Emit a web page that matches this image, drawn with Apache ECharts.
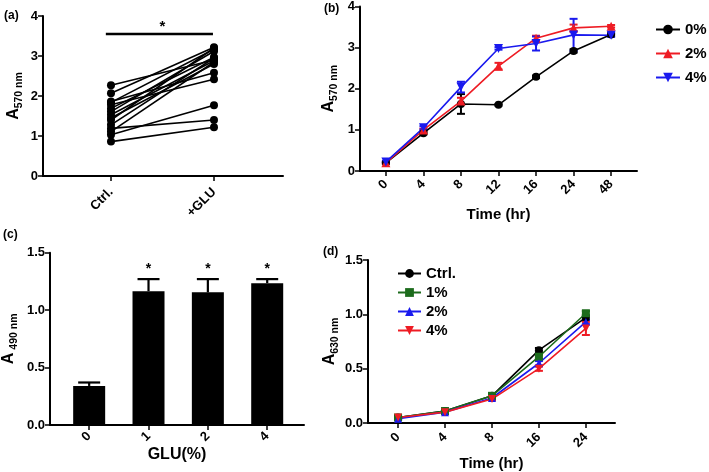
<!DOCTYPE html>
<html><head><meta charset="utf-8">
<script src="https://cdn.jsdelivr.net/npm/echarts@6/dist/echarts.min.js"></script>
<style>html,body{margin:0;padding:0;background:#fff}#c{width:709px;height:472px}</style>
</head><body><div id="c"></div>
<script>
// ---------- Panel (a): paired values ----------
const aCats = ['Ctrl.', '+GLU'];
const aCtrl = [2.27, 2.07, 1.86, 1.84, 1.78, 1.69, 1.61, 1.53, 1.45, 1.40, 1.28, 1.19, 1.11, 1.03, 0.86];
const aGlu  = [2.90, 3.22, 2.58, 3.17, 2.42, 2.97, 3.12, 2.88, 2.80, 3.20, 2.95, 1.40, 2.85, 1.77, 1.22];
const aSigY = 3.55;

// ---------- Panel (b): time course ----------
const bCats = ['0', '4', '8', '12', '16', '24', '48'];
const bNames = ['0%', '2%', '4%'];
const b0  = [0.20, 0.92, 1.63, 1.61, 2.29, 2.92, 3.32];
const b0e = [0.02, 0.03, 0.24, 0.02, 0.03, 0.04, 0.03];
const b2  = [0.20, 1.00, 1.70, 2.55, 3.23, 3.48, 3.52];
const b2e = [0.02, 0.03, 0.08, 0.08, 0.06, 0.08, 0.03];
const b4  = [0.22, 1.05, 2.04, 2.98, 3.10, 3.31, 3.30];
const b4e = [0.02, 0.04, 0.13, 0.03, 0.17, 0.39, 0.04];

// ---------- Panel (c): bars ----------
const cCats = ['0', '1', '2', '4'];
const cVals = [0.34, 1.165, 1.155, 1.235];
const cErr  = [0.03, 0.105, 0.115, 0.035];
const cSig  = ['', '*', '*', '*'];

// ---------- Panel (d): time course ----------
const dCats = ['0', '4', '8', '16', '24'];
const dNames = ['Ctrl.', '1%', '2%', '4%'];
const dCtrl = [0.05, 0.11, 0.25, 0.67, 0.97];
const dCtrlE= [0.01, 0.01, 0.01, 0.02, 0.02];
const d1    = [0.05, 0.11, 0.25, 0.61, 1.01];
const d1E   = [0.01, 0.01, 0.01, 0.02, 0.02];
const d2    = [0.04, 0.10, 0.23, 0.55, 0.93];
const d2E   = [0.01, 0.01, 0.01, 0.02, 0.02];
const d4    = [0.05, 0.10, 0.22, 0.50, 0.87];
const d4E   = [0.01, 0.01, 0.01, 0.02, 0.06];

const FONT = 'Liberation Sans, Arial, sans-serif';
const BLACK = '#000';
const RED = '#ee1c24';
const BLUE = '#1a1aee';
const GREEN = '#1c6b1c';
const TRI_DOWN = 'path://M0,0 L10,0 L5,9 Z';
const TRI_UP = 'path://M5,0 L10,9 L0,9 Z';

const chart = echarts.init(document.getElementById('c'), null, {renderer: 'canvas'});

function yName(main, sub) {
  return '{a|' + main + '}{s|' + sub + '}';
}
const nameRich = {
  a: {fontSize: 16, fontWeight: 'bold', fontFamily: FONT, color: BLACK, lineHeight: 22, verticalAlign: 'middle'},
  s: {fontSize: 10.5, fontWeight: 'bold', fontFamily: FONT, color: BLACK, lineHeight: 22, verticalAlign: 'bottom', padding: [6, 0, 0, 0]}
};

function baseAxisLine() {
  return {show: true, onZero: false, lineStyle: {color: BLACK, width: 2}};
}
function xAxisValue(gridIndex, min, max, cats, fontSize, margin) {
  const idx = cats.map((_, i) => i);
  return {
    type: 'value', gridIndex, min, max,
    splitLine: {show: false},
    axisLine: baseAxisLine(),
    axisTick: {show: true, customValues: idx, length: 5, lineStyle: {color: BLACK, width: 1.5}},
    axisLabel: {customValues: idx, formatter: v => cats[Math.round(v)], rotate: 45, color: BLACK,
      fontWeight: 'bold', fontSize: fontSize, fontFamily: FONT, margin: margin}
  };
}
function yAxisValue(gridIndex, max, interval, decimals, name, nameGap) {
  return {
    type: 'value', gridIndex, min: 0, max, interval,
    splitLine: {show: false},
    axisLine: baseAxisLine(),
    axisTick: {show: true, length: 5, lineStyle: {color: BLACK, width: 1.5}},
    axisLabel: {color: BLACK, fontWeight: 'bold', fontSize: 13, fontFamily: FONT, margin: 5,
      formatter: v => v.toFixed(decimals)},
    name, nameLocation: 'middle', nameGap, nameRotate: 90,
    nameTextStyle: {rich: nameRich}
  };
}

function errSeries(name, xi, yi, data, color) {
  return {
    type: 'custom', name: name + '_err', xAxisIndex: xi, yAxisIndex: yi, z: 3, silent: true,
    data,
    renderItem(params, api) {
      const x = api.value(0), y = api.value(1), e = api.value(2);
      const up = api.coord([x, y + e]);
      const dn = api.coord([x, y - e]);
      const hw = 4;
      const s = {stroke: color, lineWidth: 2};
      const ch = [
        {type: 'line', shape: {x1: up[0], y1: up[1], x2: dn[0], y2: dn[1]}, style: s},
        {type: 'line', shape: {x1: up[0] - hw, y1: up[1], x2: up[0] + hw, y2: up[1]}, style: s},
        {type: 'line', shape: {x1: dn[0] - hw, y1: dn[1], x2: dn[0] + hw, y2: dn[1]}, style: s}
      ];
      return {type: 'group', children: ch};
    }
  };
}

const series = [];
// (a) paired lines
aCtrl.forEach((c, i) => {
  series.push({
    type: 'line', xAxisIndex: 0, yAxisIndex: 0, name: 'pair' + i,
    data: [[0, c], [1, aGlu[i]]],
    symbol: 'circle', symbolSize: 8,
    itemStyle: {color: BLACK}, lineStyle: {color: BLACK, width: 1.6},
    silent: true, animation: false
  });
});
// significance bar
series.push({
  type: 'line', xAxisIndex: 0, yAxisIndex: 0, name: 'sig',
  data: [[-0.05, aSigY], [0.5, aSigY], [0.99, aSigY]],
  symbol: 'none', lineStyle: {color: BLACK, width: 2.5},
  markPoint: {symbol: 'circle', symbolSize: 0,
    data: [{coord: [0.5, aSigY], label: {show: true, formatter: '*', position: 'top', distance: 0,
      color: BLACK, fontSize: 15, fontWeight: 'bold', fontFamily: FONT}}]},
  silent: true, animation: false
});

// (b)
const bSeries = [
  {name: '0%', vals: b0, err: b0e, color: BLACK, symbol: 'circle', size: 8},
  {name: '2%', vals: b2, err: b2e, color: RED, symbol: TRI_UP, size: 9},
  {name: '4%', vals: b4, err: b4e, color: BLUE, symbol: TRI_DOWN, size: 9}
];
bSeries.forEach(s => {
  series.push(errSeries(s.name, 1, 1, s.vals.map((v, i) => [i, v, s.err[i]]), s.color));
  series.push({
    type: 'line', name: s.name, xAxisIndex: 1, yAxisIndex: 1, z: 4,
    data: s.vals.map((v, i) => [i, v]),
    symbol: s.symbol, symbolSize: s.size,
    itemStyle: {color: s.color}, lineStyle: {color: s.color, width: 1.6},
    animation: false
  });
});

// (c) bars
series.push({
  type: 'bar', name: 'cbar', xAxisIndex: 2, yAxisIndex: 2, barWidth: 32,
  data: cVals.map((v, i) => [i, v]), itemStyle: {color: BLACK}, animation: false, silent: true
});
series.push({
  type: 'custom', name: 'cerr', xAxisIndex: 2, yAxisIndex: 2, z: 3, silent: true,
  data: cVals.map((v, i) => [i, v, cErr[i]]),
  renderItem(params, api) {
    const i = api.value(0), y = api.value(1), e = api.value(2);
    const top = api.coord([i, y + e]);
    const base = api.coord([i, y]);
    const hw = 11;
    const s = {stroke: BLACK, lineWidth: 2.2};
    const ch = [
      {type: 'line', shape: {x1: top[0], y1: top[1], x2: base[0], y2: base[1]}, style: s},
      {type: 'line', shape: {x1: top[0] - hw, y1: top[1], x2: top[0] + hw, y2: top[1]}, style: s}
    ];
    const t = cSig[Math.round(i)];
    if (t) ch.push({type: 'text', style: {text: t, x: top[0], y: top[1] - 3, align: 'center', verticalAlign: 'bottom',
      fill: BLACK, font: 'bold 14px ' + FONT}});
    return {type: 'group', children: ch};
  }
});

// (d)
const dSeries = [
  {name: 'Ctrl.', vals: dCtrl, err: dCtrlE, color: BLACK, symbol: 'circle', size: 8},
  {name: '1% ', vals: d1, err: d1E, color: GREEN, symbol: 'rect', size: 8},
  {name: '2% ', vals: d2, err: d2E, color: BLUE, symbol: TRI_UP, size: 8},
  {name: '4% ', vals: d4, err: d4E, color: RED, symbol: TRI_DOWN, size: 8}
];
dSeries.forEach(s => {
  series.push(errSeries(s.name, 3, 3, s.vals.map((v, i) => [i, v, s.err[i]]), s.color));
  series.push({
    type: 'line', name: s.name, xAxisIndex: 3, yAxisIndex: 3, z: 4,
    data: s.vals.map((v, i) => [i, v]),
    symbol: s.symbol, symbolSize: s.size,
    itemStyle: {color: s.color}, lineStyle: {color: s.color, width: 1.6},
    animation: false
  });
});

const legendText = {color: BLACK, fontWeight: 'bold', fontSize: 15, fontFamily: FONT};

const option = {
  backgroundColor: '#fff',
  animation: false,
  grid: [
    {left: 43, top: 16, width: 240, height: 160},
    {left: 360, top: 5, width: 277, height: 166},
    {left: 43, top: 252.7, width: 261, height: 172.3},
    {left: 368, top: 260, width: 247, height: 163.5}
  ],
  xAxis: [
    xAxisValue(0, -0.66, 1.67, aCats, 13, 14),
    Object.assign(xAxisValue(1, -0.69, 6.69, bCats, 13, 11),
      {name: 'Time (hr)', nameLocation: 'middle', nameGap: 36,
       nameTextStyle: {color: BLACK, fontWeight: 'bold', fontSize: 15, fontFamily: FONT}}),
    Object.assign(xAxisValue(2, -0.66, 3.62, cCats, 13, 9),
      {name: 'GLU(%)', nameLocation: 'middle', nameGap: 15,
       nameTextStyle: {color: BLACK, fontWeight: 'bold', fontSize: 16, fontFamily: FONT}}),
    Object.assign(xAxisValue(3, -0.64, 4.62, dCats, 13, 12),
      {name: 'Time (hr)', nameLocation: 'middle', nameGap: 33,
       nameTextStyle: {color: BLACK, fontWeight: 'bold', fontSize: 15, fontFamily: FONT}})
  ],
  yAxis: [
    yAxisValue(0, 4, 1, 0, yName('A', '570 nm'), 18),
    yAxisValue(1, 4, 1, 0, yName('A', '570 nm'), 20),
    yAxisValue(2, 1.5, 0.5, 1, yName('A', ' 490 nm'), 30),
    yAxisValue(3, 1.5, 0.5, 1, yName('A', '630 nm'), 27)
  ],
  legend: [
    {orient: 'vertical', left: 655, top: 22, padding: 0, itemWidth: 24, itemHeight: 12, itemGap: 9,
     data: bNames, textStyle: legendText, selectedMode: false},
    {orient: 'vertical', left: 397, top: 266, padding: 0, itemWidth: 23, itemHeight: 11, itemGap: 4,
     data: dSeries.map(s => s.name), formatter: n => n.trim(), textStyle: legendText, selectedMode: false}
  ],
  graphic: [
    {type: 'text', left: 4, top: 10, style: {text: '(a)', font: 'bold 12px ' + FONT, fill: BLACK}},
    {type: 'text', left: 324, top: 3, style: {text: '(b)', font: 'bold 12px ' + FONT, fill: BLACK}},
    {type: 'text', left: 3, top: 229, style: {text: '(c)', font: 'bold 12px ' + FONT, fill: BLACK}},
    {type: 'text', left: 323, top: 246, style: {text: '(d)', font: 'bold 12px ' + FONT, fill: BLACK}}
  ],
  series
};
chart.setOption(option);
</script>
</body></html>
